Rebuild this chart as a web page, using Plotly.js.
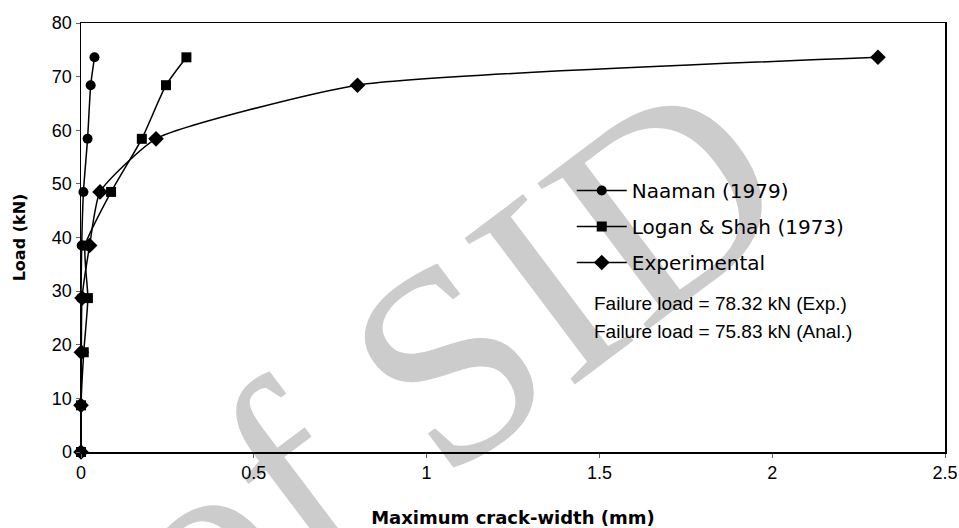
<!DOCTYPE html>
<html>
<head>
<meta charset="utf-8">
<script src="https://cdn.plot.ly/plotly-3.0.1.min.js"></script>
<style>html,body{margin:0;padding:0;background:#fff;}#chart{width:959px;height:528px;}</style>
</head>
<body>
<div id="chart"></div>
<script>
// Load levels (kN)
var loadLevels = [0, 8.7, 18.6, 28.7, 38.5, 48.5, 58.4, 68.4, 73.6];
// Maximum crack width (mm) per series
var naamanWidth = [0, 0, 0, 0, 0.002, 0.007, 0.019, 0.028, 0.039];
var loganWidth = [0, 0, 0.008, 0.02, 0.012, 0.087, 0.176, 0.246, 0.305];
var experimentalWidth = [0, 0, 0.001, 0.003, 0.025, 0.055, 0.217, 0.8, 2.306];
var seriesNames = ["Naaman (1979)", "Logan & Shah (1973)", "Experimental"];
var xTicks = [0, 0.5, 1, 1.5, 2, 2.5];
var xTickText = ["0", "0.5", "1", "1.5", "2", "2.5"];
var yTicks = [0, 10, 20, 30, 40, 50, 60, 70, 80];
var notes = ["Failure load = 78.32 kN (Exp.)", "Failure load = 75.83 kN (Anal.)"];

function mk(x, name, symbol, size, grp) {
  return {
    x: x, y: loadLevels, name: name, type: "scatter", mode: "lines+markers",
    legendgroup: grp,
    line: {color: "#000", width: 1.5, shape: "spline", smoothing: 0.5},
    marker: {symbol: symbol, size: size, color: "#000"},
    cliponaxis: false
  };
}
var data = [
  mk(naamanWidth, seriesNames[0], "circle", 10, "a"),
  mk(loganWidth, seriesNames[1], "square", 10, "b"),
  mk(experimentalWidth, seriesNames[2], "diamond", 12, "c")
];

var tickFont = {family: "Liberation Sans, Arial, sans-serif", size: 18, color: "#000"};
var layout = {
  width: 959, height: 528,
  margin: {l: 81, r: 14, t: 23, b: 76},
  paper_bgcolor: "#fff", plot_bgcolor: "rgba(0,0,0,0)",
  showlegend: true,
  xaxis: {
    range: [0, 2.5], tickvals: xTicks, ticktext: xTickText,
    showgrid: false, zeroline: false,
    showline: true, linecolor: "#000", linewidth: 1.5, mirror: true,
    ticks: "outside", ticklen: 4, tickcolor: "#666", tickwidth: 1,
    tickfont: tickFont,
    title: {text: "Maximum crack-width (mm)", font: {family: "DejaVu Sans, sans-serif", size: 18, color: "#000", weight: "bold"}, standoff: 30}
  },
  yaxis: {
    range: [0, 80], tickvals: yTicks,
    showgrid: false, zeroline: false,
    showline: true, linecolor: "#000", linewidth: 1.5, mirror: true,
    ticks: "outside", ticklen: 4, tickcolor: "#666", tickwidth: 1,
    tickfont: tickFont,
    title: {text: "Load (kN)", font: {family: "DejaVu Sans, sans-serif", size: 16, color: "#000", weight: "bold"}, standoff: 22}
  },
  legend: {
    x: 0.568, y: 0.655, xanchor: "left", yanchor: "top",
    bgcolor: "rgba(0,0,0,0)", borderwidth: 0,
    font: {family: "DejaVu Sans, sans-serif", size: 20, color: "#000"},
    traceorder: "grouped", tracegroupgap: 7, itemwidth: 50
  },
  annotations: [
    {xref: "paper", yref: "paper", x: 0.591, y: (451.7 - 303) / 428.7, xanchor: "left", yanchor: "middle",
     text: notes[0], showarrow: false, font: {family: "Liberation Sans, Arial, sans-serif", size: 19, color: "#000"}},
    {xref: "paper", yref: "paper", x: 0.591, y: (451.7 - 331) / 428.7, xanchor: "left", yanchor: "middle",
     text: notes[1], showarrow: false, font: {family: "Liberation Sans, Arial, sans-serif", size: 19, color: "#000"}}
  ],
  shapes: [
    {type: "rect", xref: "paper", yref: "paper", x0: 0.30, x1: 0.50, y0: 0.16, y1: 0.36,
     layer: "below", line: {width: 0}, fillcolor: "rgba(0,0,0,0)",
     label: {text: "of SID", textangle: -37, textposition: "middle center",
             font: {family: "Liberation Serif, serif", size: 280, color: "#cccccc"}}}
  ]
};
Plotly.newPlot("chart", data, layout, {displayModeBar: false, staticPlot: true});
</script>
</body>
</html>
